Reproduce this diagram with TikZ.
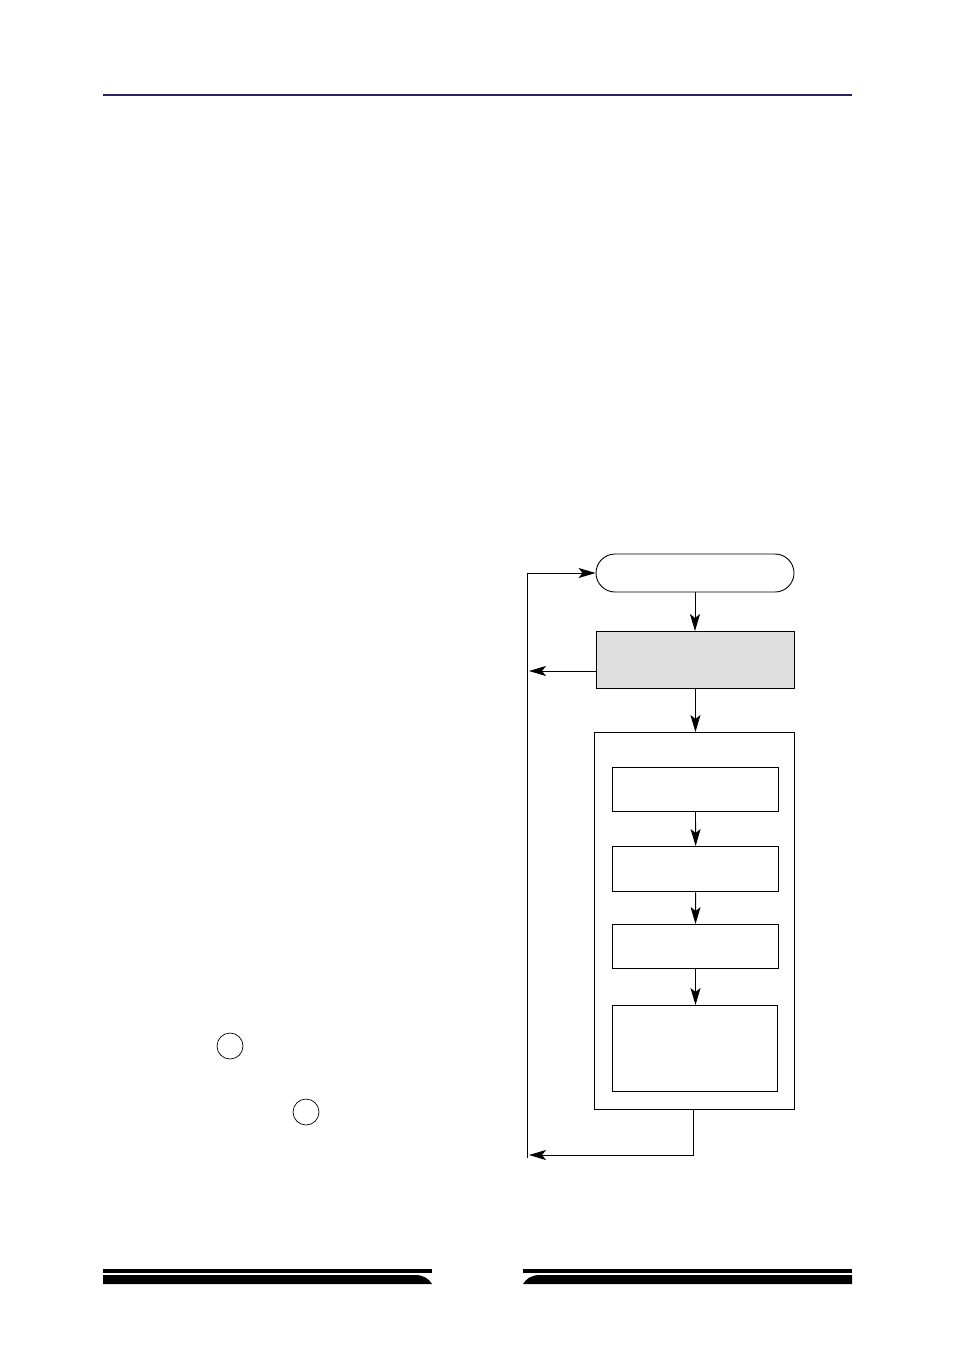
\documentclass[tikz,border=0pt]{standalone}
\usetikzlibrary{arrows.meta,shapes.misc}
\definecolor{headline}{HTML}{2E1F5E}
\definecolor{boxgray}{HTML}{DEDEDE}
\begin{document}
\begin{tikzpicture}[x=1pt,y=1pt,
  conn/.style={line width=0.9pt,-{Stealth[length=17pt,width=10pt,inset=4pt,fill=black]}},
  plainline/.style={line width=0.9pt},
  boxn/.style={draw,line width=1pt,minimum width=166pt,minimum height=44pt,inner sep=0pt,anchor=north west},
]
\useasboundingbox (0,0) rectangle (954,-1355);
% header rule
\draw[headline,line width=1.3pt] (103,-95) -- (852,-95);
% flowchart
\node[draw,line width=0.9pt,rounded rectangle,minimum width=198pt,minimum height=38pt,inner sep=0pt] (start) at (695,-573) {};
\node[draw,line width=0.9pt,fill=boxgray,minimum width=198pt,minimum height=57pt,inner sep=0pt,anchor=north west] (gray) at (596,-631) {};
\node[draw,line width=1.2pt,minimum width=200pt,minimum height=377pt,inner sep=0pt,anchor=north west] (outer) at (594,-732) {};
\node[boxn] (b1) at (612,-767) {};
\node[boxn,line width=1.3pt,minimum height=45pt] (b2) at (612,-846) {};
\node[boxn,minimum height=44pt] (b3) at (612,-924) {};
\node[boxn,minimum height=86pt,minimum width=165pt] (b4) at (612,-1005) {};
\coordinate (ltop) at (527,-573);
\coordinate (lmid) at (527,-671);
\coordinate (lbot) at (527,-1155);
\coordinate (obot) at (693,-1155);
\draw[plainline] (527,-1158) -- (ltop);
\draw[conn] (ltop) -- (ltop -| start.west);
\draw[conn] (start.south) -- (start.south |- gray.north);
\draw[conn] (gray.west |- lmid) -- ([xshift=2pt]lmid);
\draw[conn] (gray.south) -- (outer.north -| gray.south);
\draw[conn] (b1.south) -- (b2.north);
\draw[conn] (b2.south) -- (b3.north);
\draw[conn] (b3.south) -- (b4.north -| b3.south);
\draw[conn] (outer.south -| obot) -- (obot) -- ([xshift=2pt]lbot);
% circles
\node[draw,circle,line width=0.7pt,minimum size=26pt,inner sep=0pt] (c1) at (230,-1046) {};
\node[draw,circle,line width=0.7pt,minimum size=26pt,inner sep=0pt] (c2) at (306,-1112) {};
% footer bars
\fill (103,-1269) rectangle (432,-1273);
\fill (103,-1275) -- (415,-1275) .. controls (424,-1275) and (429,-1279) .. (432,-1284) -- (103,-1284) -- cycle;
\fill (523,-1269) rectangle (852,-1273);
\fill (852,-1275) -- (540,-1275) .. controls (531,-1275) and (526,-1279) .. (523,-1284) -- (852,-1284) -- cycle;
\end{tikzpicture}
\end{document}
